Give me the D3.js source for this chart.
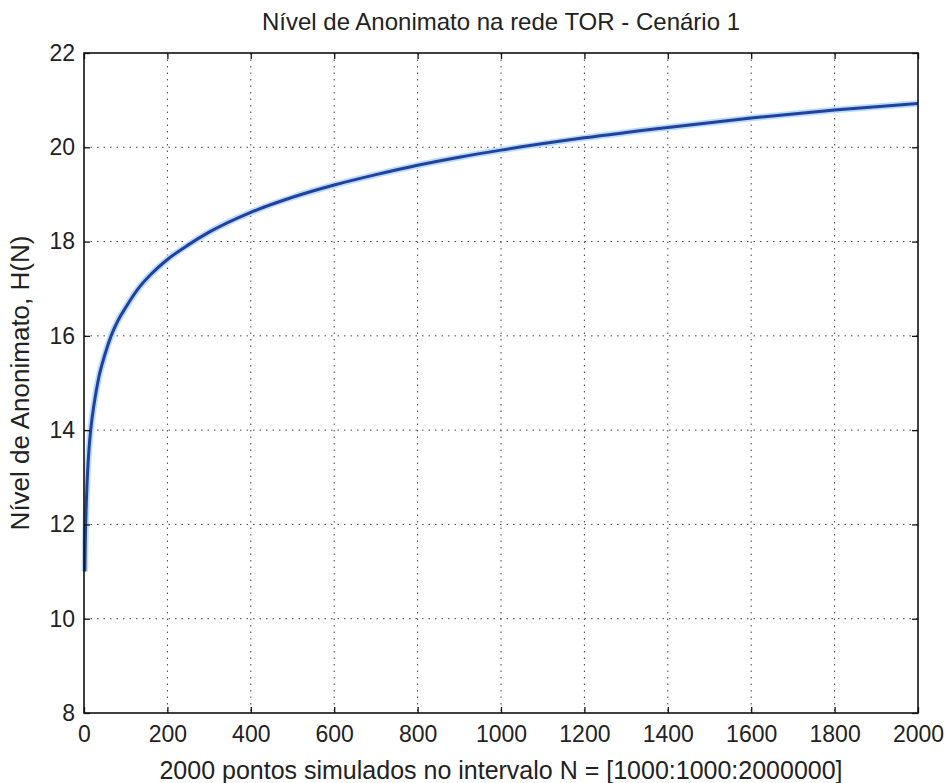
<!DOCTYPE html>
<html>
<head>
<meta charset="utf-8">
<script src="https://cdn.jsdelivr.net/npm/d3@7"></script>
<style>
  html, body { margin: 0; padding: 0; background: #fff; }
  svg text { font-family: "Liberation Sans", Arial, sans-serif; fill: #222; }
</style>
</head>
<body>
<svg id="chart" width="948" height="783"></svg>
<script>
// values (x = point index, y = H(N))
const pointIndex = [2, 3, 5, 8, 12, 16, 25, 35, 50, 65, 80, 100, 130, 160, 200, 250, 300,
                    400, 500, 600, 700, 800, 900, 1000, 1200, 1400, 1600, 1800, 2000];
const entropy = [11.0, 11.6, 12.3, 13.0, 13.6, 14.0, 14.6, 15.1, 15.6, 16.0, 16.3, 16.6, 17.0,
                 17.3, 17.62, 17.93, 18.2, 18.62, 18.94, 19.2, 19.42, 19.62, 19.79, 19.94,
                 20.2, 20.42, 20.62, 20.79, 20.93];
const xTicks = [0, 200, 400, 600, 800, 1000, 1200, 1400, 1600, 1800, 2000];
const yTicks = [8, 10, 12, 14, 16, 18, 20, 22];

const titleText = 'Nível de Anonimato na rede TOR - Cenário 1';
const xLabel = '2000 pontos simulados no intervalo N = [1000:1000:2000000]';
const yLabel = 'Nível de Anonimato, H(N)';

const margin = {top: 53, right: 30, bottom: 70, left: 84};
const width = 948, height = 783;

const svg = d3.select('#chart');

const x = d3.scaleLinear().domain([0, 2000]).range([margin.left, width - margin.right]);
const y = d3.scaleLinear().domain([8, 22]).range([height - margin.bottom, margin.top]);

const data = pointIndex.map((d, i) => ({x: d, y: entropy[i]}));

// grid
const grid = svg.append('g')
  .attr('stroke', '#444')
  .attr('stroke-width', 1)
  .attr('stroke-dasharray', '1.5,5');

grid.selectAll('.gx')
  .data(xTicks.slice(1, -1))
  .join('line')
  .attr('x1', d => x(d)).attr('x2', d => x(d))
  .attr('y1', y(22)).attr('y2', y(8));

grid.selectAll('.gy')
  .data(yTicks.slice(1, -1))
  .join('line')
  .attr('y1', d => y(d)).attr('y2', d => y(d))
  .attr('x1', x(0)).attr('x2', x(2000));

// curve
const line = d3.line()
  .x(d => x(d.x))
  .y(d => y(d.y))
  .curve(d3.curveMonotoneX);

svg.append('path')
  .datum(data)
  .attr('fill', 'none')
  .attr('stroke', '#b8dcff')
  .attr('stroke-width', 6.5)
  .attr('stroke-linejoin', 'round')
  .attr('d', line);

svg.append('path')
  .datum(data)
  .attr('fill', 'none')
  .attr('stroke', '#23409a')
  .attr('stroke-width', 3)
  .attr('stroke-linejoin', 'round')
  .attr('d', line);

// axes with inward ticks on all four sides
const tickLen = 6;
const axisStyle = g => {
  g.select('.domain').remove();
  g.selectAll('.tick line').attr('stroke', '#111').attr('stroke-width', 1.3);
  g.selectAll('.tick text').attr('font-size', 23).attr('fill', '#222')
    .attr('font-family', '"Liberation Sans", Arial, sans-serif');
};

svg.append('g')
  .attr('transform', `translate(0,${y(8)})`)
  .call(d3.axisBottom(x).tickValues(xTicks).tickSize(-tickLen).tickPadding(13).tickFormat(d3.format('d')))
  .call(axisStyle);

svg.append('g')
  .attr('transform', `translate(0,${y(22)})`)
  .call(d3.axisTop(x).tickValues(xTicks).tickSize(-tickLen).tickFormat(''))
  .call(axisStyle);

svg.append('g')
  .attr('transform', `translate(${x(0)},0)`)
  .call(d3.axisLeft(y).tickValues(yTicks).tickSize(-tickLen).tickPadding(9).tickFormat(d3.format('d')))
  .call(axisStyle);

svg.append('g')
  .attr('transform', `translate(${x(2000)},0)`)
  .call(d3.axisRight(y).tickValues(yTicks).tickSize(-tickLen).tickFormat(''))
  .call(axisStyle);

// box
svg.append('rect')
  .attr('x', x(0)).attr('y', y(22))
  .attr('width', x(2000) - x(0)).attr('height', y(8) - y(22))
  .attr('fill', 'none')
  .attr('stroke', '#111')
  .attr('stroke-width', 1.6);

// texts
svg.append('text')
  .attr('x', (x(0) + x(2000)) / 2)
  .attr('y', 30)
  .attr('text-anchor', 'middle')
  .attr('font-size', 24)
  .text(titleText);

svg.append('text')
  .attr('x', (x(0) + x(2000)) / 2)
  .attr('y', 779)
  .attr('text-anchor', 'middle')
  .attr('font-size', 25)
  .text(xLabel);

svg.append('text')
  .attr('transform', `translate(29,${(y(8) + y(22)) / 2}) rotate(-90)`)
  .attr('text-anchor', 'middle')
  .attr('font-size', 26)
  .text(yLabel);
</script>
</body>
</html>
